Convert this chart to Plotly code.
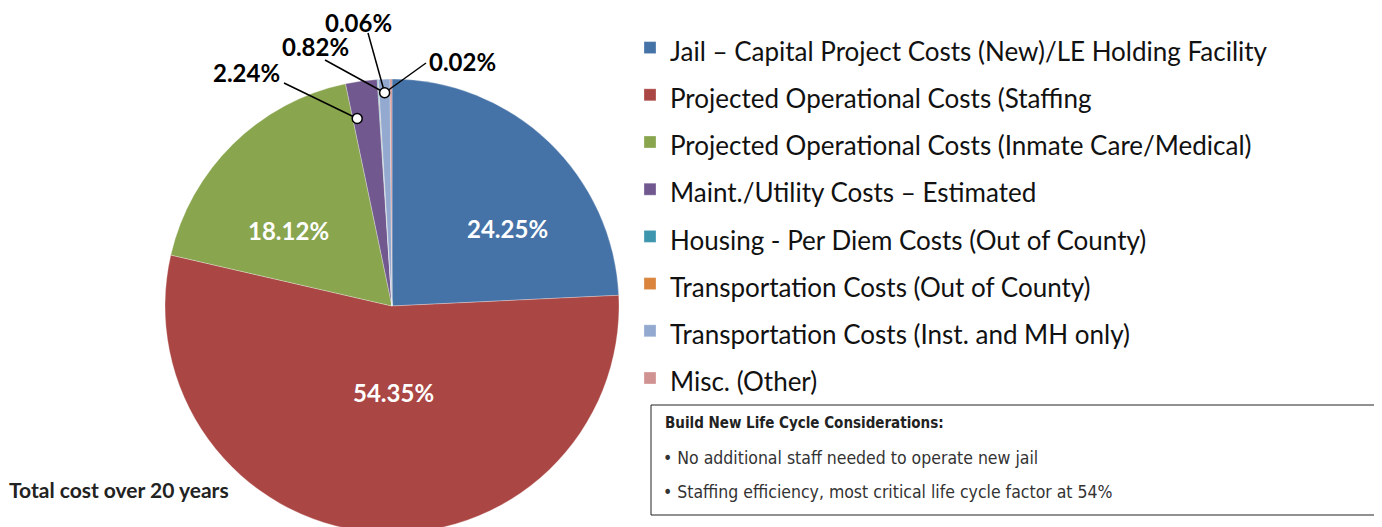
import math
import plotly.graph_objects as go

W, H = 1382, 527
OFF = 8  # page body margin

categories = [
    "Jail – Capital Project Costs (New)/LE Holding Facility",
    "Projected Operational Costs (Staffing",
    "Projected Operational Costs (Inmate Care/Medical)",
    "Maint./Utility Costs – Estimated",
    "Housing - Per Diem Costs (Out of County)",
    "Transportation Costs (Out of County)",
    "Transportation Costs (Inst. and MH only)",
    "Misc. (Other)",
]
values = [24.25, 54.35, 18.12, 2.24, 0.06, 0.02, 0.82, 0.14]
colors = ["#4572A7", "#AA4643", "#89A54E", "#71588F", "#3D96AE", "#DB843D", "#93A9CF", "#D19392"]
inside_label = [True, True, True, False, False, False, False, False]
outside_label = [False, False, False, True, True, True, True, False]

box_title = "Build New Life Cycle Considerations:"
box_lines = ["• No additional staff needed to operate new jail",
             "• Staffing efficiency, most critical life cycle factor at 54%"]
footer = "Total cost over 20 years"

# pie geometry (screen pixels)
CX, CY, R = 392, 306, 227


def px(x):
    return (x - OFF) / W


def py(y):
    return 1 - (y - OFF) / H


legend_labels = [f'<span style="font-size:26px">{c}</span>' for c in categories]

fig = go.Figure(go.Pie(
    labels=legend_labels,
    values=values,
    sort=False,
    direction="clockwise",
    rotation=0,
    marker=dict(colors=colors, line=dict(color="white", width=0.3)),
    textinfo="none",
    hoverinfo="skip",
    domain=dict(x=[px(CX - R), px(CX + R)], y=[max(0, py(CY + R)), py(CY - R)]),
))

# slice start / mid angles from data
total = sum(values)
cum = 0
starts, spans, mids = [], [], []
for v in values:
    starts.append(cum / total * 360)
    spans.append(v / total * 360)
    mids.append((cum + v / 2) / total * 360)
    cum += v


def tip(angle, frac):
    a = math.radians(angle)
    return CX + R * frac * math.sin(a), CY - R * frac * math.cos(a)


shapes = []
annotations = []

# inside labels (label placement, screen px)
inside_pos = {0: (507, 228), 1: (393, 392), 2: (288, 230)}
for i, show in enumerate(inside_label):
    if show:
        lx, ly = inside_pos[i]
        annotations.append(dict(text=f"<b>{values[i]:.2f}%</b>", x=px(lx), y=py(ly),
                                xref="paper", yref="paper", showarrow=False,
                                xanchor="center", yanchor="middle",
                                font=dict(family="Lato", size=24, color="white")))

# outside labels: label centre / leader start
label_pos = {3: ((246, 72), (284, 83)), 4: ((358, 22), (368, 33)),
             5: ((462, 62), (426, 63)), 6: ((315, 47), (325, 60))}
big_tip = tip(starts[3] + 0.16 * spans[3], 0.84)
cluster_tip = tip(mids[6], 0.94)
for i, show in enumerate(outside_label):
    if not show:
        continue
    (lx, ly), (sx, sy) = label_pos[i]
    tx, ty = big_tip if i == 3 else cluster_tip
    shapes.append(dict(type="line", xref="paper", yref="paper",
                       x0=px(sx), y0=py(sy), x1=px(tx), y1=py(ty),
                       line=dict(color="black", width=1.5)))
    annotations.append(dict(text=f"<b>{values[i]:.2f}%</b>", x=px(lx), y=py(ly),
                            xref="paper", yref="paper", showarrow=False,
                            xanchor="center", yanchor="middle",
                            font=dict(family="Lato", size=24, color="black")))
for (tx, ty) in [big_tip, cluster_tip]:
    shapes.append(dict(type="circle", xref="paper", yref="paper",
                       x0=px(tx - 5), x1=px(tx + 5), y0=py(ty + 5), y1=py(ty - 5),
                       fillcolor="white", line=dict(color="black", width=1.5)))

# considerations box
shapes.append(dict(type="rect", xref="paper", yref="paper",
                   x0=px(651), x1=px(1400), y0=py(515), y1=py(405),
                   line=dict(color="#222222", width=1), fillcolor="rgba(0,0,0,0)"))
cond_font = "DejaVu Sans Condensed, Roboto"
annotations.append(dict(text=f"<b>{box_title}</b>", x=px(663), y=py(423), xref="paper", yref="paper",
                        xanchor="left", yanchor="middle", showarrow=False,
                        font=dict(family=cond_font, size=15, color="#222222")))
for j, line in enumerate(box_lines):
    annotations.append(dict(text=line, x=px(661), y=py(458 + 34 * j), xref="paper", yref="paper",
                            xanchor="left", yanchor="middle", showarrow=False,
                            font=dict(family=cond_font, size=17.5, color="#333333")))
annotations.append(dict(text=f"<b>{footer}</b>", x=px(7), y=py(490), xref="paper", yref="paper",
                        xanchor="left", yanchor="middle", showarrow=False,
                        font=dict(family="Lato", size=21, color="#222222")))

fig.update_layout(
    width=W, height=H,
    margin=dict(l=0, r=0, t=0, b=0),
    paper_bgcolor="white",
    plot_bgcolor="white",
    showlegend=True,
    legend=dict(x=px(630), y=py(19), xanchor="left", yanchor="top",
                font=dict(family="Lato", size=34, color="#111111"),
                bgcolor="rgba(0,0,0,0)", traceorder="normal"),
    shapes=shapes,
    annotations=annotations,
)

fig.write_html("out.html")
